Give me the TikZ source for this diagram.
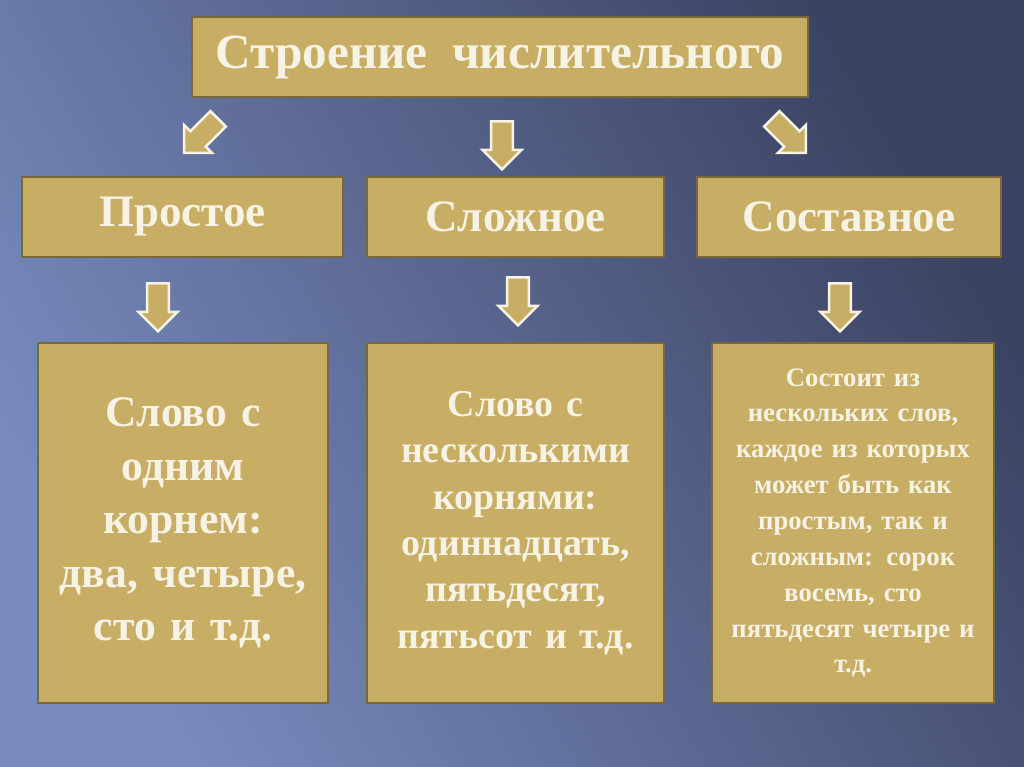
\documentclass[tikz,border=0pt]{standalone}
\usepackage{fontspec}
\setmainfont{Liberation Serif}
\usetikzlibrary{shapes.arrows}
\definecolor{khaki}{RGB}{200,174,100}
\definecolor{cream}{RGB}{246,242,228}
\definecolor{bgdark}{RGB}{58,66,96}
\definecolor{bglight}{RGB}{120,138,190}
\tikzset{
  box/.style={draw=khaki!60!black,line width=1pt,fill=khaki,text=cream,font=\bfseries,align=center,inner sep=0pt},
  arr/.style={single arrow,draw=cream,line width=1.8pt,fill=khaki,minimum height=1.2cm,inner xsep=0pt,inner ysep=0.24cm,single arrow head extend=0.22cm}
}
\begin{document}
\begin{tikzpicture}[x=0.025cm,y=-0.025cm]
\shade[left color=bglight,right color=bgdark,shading angle=120] (0,0) rectangle (1024,767);
\useasboundingbox (0,0) rectangle (1024,767);
\node(title) [box,minimum width=15.4cm,minimum height=2cm,font=\bfseries\fontsize{35}{40}\selectfont] at (500,57) {Строение\ \ числительного};
\node(simple) [box,minimum width=8.025cm,minimum height=2cm,font=\bfseries\fontsize{32}{36}\selectfont] at (182.5,217) {Простое};
\node(complex) [box,minimum width=7.425cm,minimum height=2cm,font=\bfseries\fontsize{32}{36}\selectfont] at (515.5,217) {Сложное};
\node(compound) [box,minimum width=7.6cm,minimum height=2cm,font=\bfseries\fontsize{32}{36}\selectfont] at (849,217) {Составное};
\node(simpletext) [box,minimum width=7.25cm,minimum height=9cm,text width=7.1cm,font=\bfseries\fontsize{31}{38}\selectfont] at (183,523) {Слово с\\одним\\корнем:\\два, четыре,\\сто и т.д.};
\node(complextext) [box,minimum width=7.425cm,minimum height=9cm,text width=7.3cm,font=\bfseries\fontsize{27}{33}\selectfont] at (515.5,523) {Слово с\\несколькими\\корнями:\\одиннадцать,\\пятьдесят,\\пятьсот и т.д.};
\node(compoundtext) [box,minimum width=7.05cm,minimum height=9cm,text width=6.95cm,font=\bfseries\fontsize{19}{25.5}\selectfont] at (853,523) {Состоит из\\нескольких слов,\\каждое из которых\\может быть как\\простым, так и\\сложным: сорок\\восемь, сто\\пятьдесят четыре и\\т.д.};
\node(a1) [arr,rotate=-135] at (205,132) {};
\node(a2) [arr,rotate=-90] at (502,140) {};
\node(a3) [arr,rotate=-45] at (785,132) {};
\node(a4) [arr,rotate=-90] at (158,302) {};
\node(a5) [arr,rotate=-90] at (518,296) {};
\node(a6) [arr,rotate=-90] at (840,302) {};
\end{tikzpicture}
\end{document}
